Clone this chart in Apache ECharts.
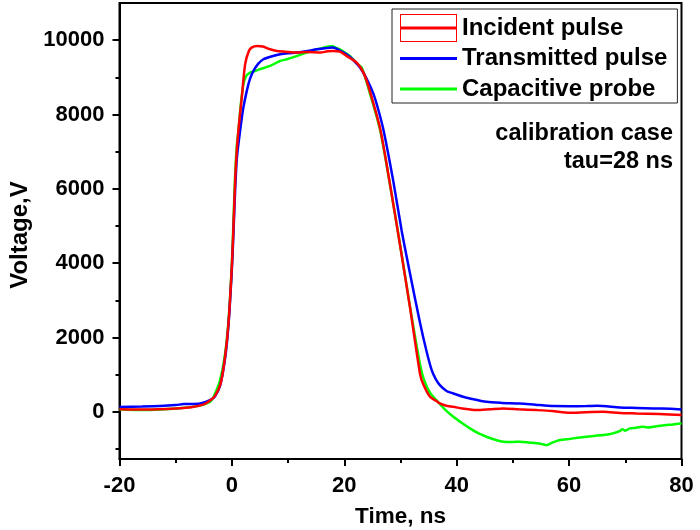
<!DOCTYPE html>
<html>
<head>
<meta charset="utf-8">
<script src="https://cdn.jsdelivr.net/npm/echarts@6/dist/echarts.min.js"></script>
<style>
  html, body { margin: 0; padding: 0; background: #fff; }
  #chart { width: 700px; height: 530px; }
</style>
</head>
<body>
<div id="chart"></div>
<script>
// Time (ns) / voltage (V) traces of the three pulses
const incidentPulse = [
  [-20, 70], [-15, 60], [-10, 90], [-7, 130], [-5, 200], [-4, 290], [-3, 430],
  [-2, 760], [-1.2, 1500], [-0.6, 2400], [0, 3950], [0.3, 5050], [0.6, 6300],
  [0.9, 7100], [1.3, 7800], [1.76, 8456], [2.35, 9350], [3.0, 9700], [3.5, 9800],
  [4.5, 9845], [5.5, 9830], [6.8, 9755], [8, 9710], [9.5, 9690], [11.5, 9665],
  [13.5, 9680], [15.7, 9665], [17, 9700], [18, 9710], [19.2, 9690], [20.4, 9576],
  [22.2, 9396], [23.5, 9100], [24.6, 8600], [26.4, 7600], [28.1, 6150],
  [29.9, 4500], [31.7, 2800], [33.5, 1000], [34.05, 740], [35.25, 403],
  [36.4, 290], [37, 225], [38, 170], [39.4, 134], [41, 90], [43.5, 46],
  [46, 70], [48.3, 91], [51, 70], [54.2, 46], [57, 20], [60.1, -27], [63, -10],
  [66.1, 0], [69, -30], [72, -43], [76, -60], [80, -89]
];

const transmittedPulse = [
  [-20, 130], [-16, 140], [-12.8, 153], [-10, 180], [-8.6, 207], [-5.65, 225],
  [-3.9, 314], [-3, 420], [-2.1, 700], [-1.2, 1450], [-0.6, 2350], [0, 3850],
  [0.3, 4900], [0.6, 6050], [0.9, 6850], [1.46, 7560], [2.0, 8150], [2.65, 8636],
  [3.2, 8950], [3.83, 9173], [4.7, 9370], [5.6, 9487], [7, 9560], [8.57, 9620],
  [10, 9650], [11.5, 9665], [13.5, 9710], [15.1, 9755], [16.5, 9780],
  [17.8, 9800], [18.5, 9780], [19.2, 9720], [20.4, 9620], [21.5, 9480],
  [22.8, 9262], [24, 8950], [25.2, 8547], [26.1, 8100], [27, 7562], [28.7, 6220],
  [30.2, 4878], [31.7, 3715], [33.5, 2373], [34.6, 1650], [35.55, 1119],
  [36.2, 900], [37, 717], [38.2, 560], [39.4, 493], [41, 410], [42.35, 359],
  [45.3, 268], [48, 240], [51.25, 225], [54, 190], [57.2, 153], [60, 150],
  [63.1, 153], [65, 160], [69, 118], [72, 105], [75, 91], [78, 80], [80, 64]
];

const capacitiveProbe = [
  [-20, 64], [-15.7, 46], [-12, 70], [-9.8, 91], [-6.2, 153], [-3.9, 268],
  [-3.27, 400], [-2.1, 851], [-1.2, 1576], [-0.6, 2460], [0, 4000], [0.27, 5100],
  [0.57, 6350], [0.87, 7150], [1.16, 7560], [1.6, 8300], [2.05, 8816],
  [2.6, 9050], [3.24, 9128], [3.83, 9150], [5.0, 9219], [6.8, 9307], [8.57, 9440],
  [9.77, 9487], [11.5, 9570], [13.3, 9665], [14.8, 9740], [16.3, 9800],
  [17.2, 9830], [17.8, 9845], [18.5, 9800], [19.2, 9755], [21, 9576],
  [22.2, 9380], [23.1, 9262], [24.6, 8547], [26.4, 7562], [28.1, 6132],
  [29.9, 4521], [31.7, 2818], [33.5, 1250], [34.2, 850], [35.3, 500],
  [36.4, 314], [37.8, 80], [39.4, -134], [41, -310], [42.35, -446], [44, -590],
  [45.3, -671], [47, -760], [48.3, -805], [50, -810], [51.25, -805], [53, -830],
  [54.2, -848], [55.2, -870], [56, -894], [57, -830], [58.4, -760], [60, -730],
  [61.5, -700], [63.1, -671], [65, -640], [66.5, -620], [67.8, -580], [69, -520],
  [69.5, -470], [70, -510], [70.8, -446], [72, -430], [73, -400], [74, -420],
  [75, -403], [77, -360], [78.5, -340], [80, -311]
];

const seriesNames = ['Incident pulse', 'Transmitted pulse', 'Capacitive probe'];
const seriesColors = ['#ff0000', '#0000ff', '#00ff00'];

// Axis ticks
const xTickInterval = 20;
const yMajorTicks = [0, 2000, 4000, 6000, 8000, 10000];
const yMinorTicks = [-1000, 1000, 3000, 5000, 7000, 9000];

const noteLines = ['calibration case', 'tau=28 ns'];

const FONT = '"Liberation Sans", Arial, sans-serif';

const chart = echarts.init(document.getElementById('chart'), null, { renderer: 'canvas' });

const yRange = { min: -1270, max: 11000 };

// Legend marks (57 x 28 box each): framed box with a line through it, and plain lines
const boxedLineIcon = 'path://M0,0 H57 V28 H0 Z M1,1 V27 H56 V1 Z M1,12.6 H56 V15.4 H1 Z';
const plainLineIcon = 'path://M0,0 L0.01,0 L0,0.01 Z M0,12.5 H57 V15.5 H0 Z M57,28 L56.99,28 L57,27.99 Z';

const axisFontStyle = { fontFamily: FONT, fontWeight: 'bold', color: '#000' };

const option = {
  animation: false,
  backgroundColor: '#ffffff',
  grid: {
    left: 119.5, right: 18.5, top: 3, bottom: 71,
    outerBoundsMode: 'none',
    containLabel: false,
    show: true, borderColor: '#000', borderWidth: 2, backgroundColor: 'transparent'
  },
  legend: {
    orient: 'vertical',
    left: 392, top: 9,
    padding: [5, 10, 0, 8],
    itemGap: 2.5,
    itemWidth: 57, itemHeight: 28,
    borderColor: '#222', borderWidth: 1,
    selectedMode: false,
    textStyle: { fontFamily: FONT, fontWeight: 'bold', fontSize: 24, color: '#000' },
    data: [
      { name: seriesNames[0], icon: boxedLineIcon },
      { name: seriesNames[1], icon: plainLineIcon },
      { name: seriesNames[2], icon: plainLineIcon }
    ]
  },
  xAxis: {
    type: 'value',
    min: -20, max: 80, interval: xTickInterval,
    name: 'Time, ns',
    nameLocation: 'middle',
    nameGap: 46,
    nameTextStyle: Object.assign({ fontSize: 22.5 }, axisFontStyle),
    axisLine: { show: true, onZero: false, lineStyle: { color: '#000', width: 2 } },
    axisTick: { show: true, inside: false, length: 7, lineStyle: { color: '#000', width: 2 } },
    minorTick: { show: true, splitNumber: 2, length: 4, lineStyle: { color: '#000', width: 2 } },
    axisLabel: Object.assign({ margin: 16, fontSize: 22, formatter: v => String(v) }, axisFontStyle),
    splitLine: { show: false },
    minorSplitLine: { show: false }
  },
  yAxis: [
    {
      type: 'value',
      min: yRange.min, max: yRange.max,
      name: 'Voltage,V',
      nameLocation: 'middle',
      nameGap: 82,
      nameTextStyle: Object.assign({ fontSize: 24, padding: [0, 8, 0, 0] }, axisFontStyle),
      axisLine: { show: true, onZero: false, lineStyle: { color: '#000', width: 2 } },
      axisTick: { show: true, inside: false, length: 7, customValues: yMajorTicks,
        lineStyle: { color: '#000', width: 2 } },
      axisLabel: Object.assign({ margin: 15, fontSize: 22, customValues: yMajorTicks,
        formatter: v => String(v) }, axisFontStyle),
      splitLine: { show: false }
    },
    {
      type: 'value',
      position: 'left',
      offset: 0,
      min: yRange.min, max: yRange.max,
      axisLine: { show: false, onZero: false },
      axisTick: { show: true, inside: false, length: 4, customValues: yMinorTicks,
        lineStyle: { color: '#000', width: 2 } },
      axisLabel: { show: false },
      splitLine: { show: false }
    }
  ],
  series: [incidentPulse, transmittedPulse, capacitiveProbe].map((data, i) => ({
    name: seriesNames[i],
    type: 'line',
    data: data,
    yAxisIndex: 0,
    showSymbol: false,
    symbol: 'none',
    smooth: 0.25,
    color: seriesColors[i],
    itemStyle: { color: seriesColors[i] },
    lineStyle: { color: seriesColors[i], width: 2.5 },
    z: 3 - i
  })),
  graphic: noteLines.map((line, i) => ({
    type: 'text',
    right: 27,
    top: 122 + i * 28,
    style: {
      text: line,
      fontFamily: FONT, fontWeight: 'bold', fontSize: 23.5, fill: '#000'
    }
  }))
};

chart.setOption(option);
</script>
</body>
</html>
